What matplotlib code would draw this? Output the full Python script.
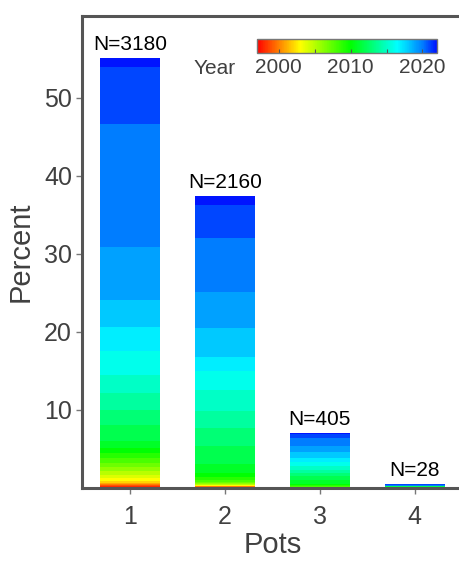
import numpy as np
import matplotlib
matplotlib.use('Agg')
import matplotlib.pyplot as plt
from matplotlib.colors import LinearSegmentedColormap, Normalize
from matplotlib.cm import ScalarMappable

plt.rcParams['font.family'] = ['Liberation Sans', 'DejaVu Sans']

# records per year for each number of pots
years = list(range(1997, 2023))
pots = [1, 2, 3, 4]
pot1 = [7, 7, 7, 7, 7, 15, 22, 22, 30, 30, 30, 37, 37, 37, 52, 118,
        111, 126, 133, 178, 178, 200, 395, 905, 422, 67]
pot2 = [0, 0, 7, 7, 0, 0, 4, 4, 7, 7, 7, 15, 22, 30, 67, 133,
        133, 126, 154, 141, 104, 215, 266, 400, 244, 67]
pot3 = [0, 0, 5, 5, 0, 0, 0, 0, 0, 0, 0, 5, 5, 10, 25, 30,
        25, 25, 30, 30, 30, 40, 45, 60, 30, 5]
pot4 = [0, 0, 0, 0, 0, 0, 0, 0, 0, 0, 0, 0, 0, 0, 0, 12,
        0, 0, 0, 3, 0, 0, 0, 5, 8, 0]
counts = [pot1, pot2, pot3, pot4]
total = sum(sum(c) for c in counts)

# red -> yellow -> green -> cyan -> blue, anchored at years
nodes = [(1997, (1, 0, 0)), (2003, (1, 1, 0)), (2010, (0, 1, 0)),
         (2016.5, (0, 1, 1)), (2018, (0, 0.8, 1)), (2019, (0, 0.64, 1)),
         (2020, (0, 0.5, 1)), (2021, (0, 0.28, 1)), (2022, (0, 0.08, 1))]
cmap = LinearSegmentedColormap.from_list(
    'year', [((y - 1997) / 25, c) for y, c in nodes])
norm = Normalize(vmin=1997, vmax=2022)

fig = plt.figure(figsize=(4.6, 5.74), dpi=100)
ax = fig.add_axes([0.179, 0.150, 0.826, 0.822])

txt = '#404040'
for p, c in zip(pots, counts):
    pct = np.array(c) / total * 100
    bottom = 0
    for y, v in zip(years, pct):
        if v == 0:
            continue
        ax.bar(p, v, width=0.63, bottom=bottom, color=cmap(norm(y)),
               edgecolor='none')
        bottom += v
    ax.annotate('N=%d' % sum(c), (p, bottom), xytext=(0, 3),
                textcoords='offset points', ha='center', va='bottom',
                fontsize=15, color='black')

ax.set_xlim(0.5, 4.5)
ax.set_ylim(0, 60.5)
ax.set_xticks(pots)
ax.set_yticks([10, 20, 30, 40, 50])
ax.tick_params(colors='#777777', labelcolor=txt, labelsize=18,
               length=4, width=1)
ax.tick_params(axis='x', pad=8)
ax.set_xlabel('Pots', fontsize=21, color=txt, labelpad=2)
ax.set_ylabel('Percent', fontsize=21, color=txt, labelpad=7)
for s in ax.spines.values():
    s.set_color('#555555')
    s.set_linewidth(2.2)
ax.spines['right'].set_visible(False)

# year colour scale
cax = fig.add_axes([0.5587, 0.908, 0.391, 0.0233])
cb = fig.colorbar(ScalarMappable(norm=norm, cmap=cmap), cax=cax,
                  orientation='horizontal')
cb.set_ticks([2000, 2005, 2010, 2015, 2020])
cb.set_ticklabels(['2000', '', '2010', '', '2020'])
cb.ax.tick_params(labelsize=15, labelcolor=txt, colors='#555555',
                  direction='in', length=3, pad=4)
cb.outline.set_edgecolor('#777777')
cb.outline.set_linewidth(1)
cax.text(-0.12, -0.45, 'Year', transform=cax.transAxes, ha='right',
         va='top', fontsize=15, color=txt)

fig.savefig('out.png', dpi=100)
